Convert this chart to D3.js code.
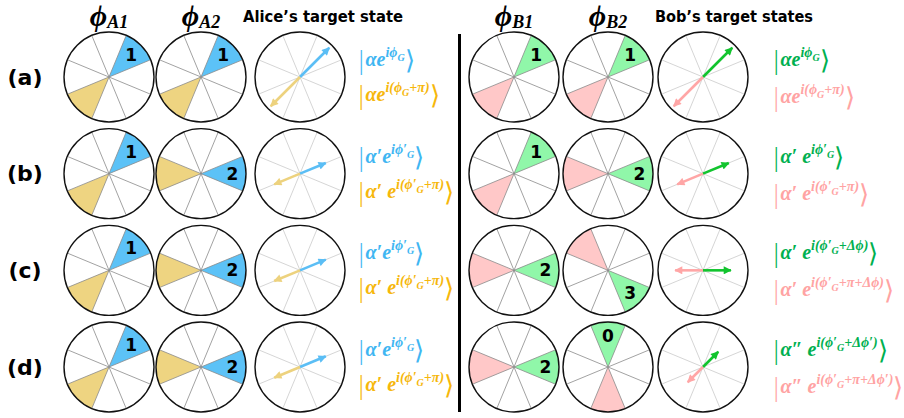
<!DOCTYPE html>
<html>
<head>
<meta charset="utf-8">
<script src="https://cdn.jsdelivr.net/npm/d3@7"></script>
<style>
  body { margin: 0; background: #fff; }
  svg { display: block; }
</style>
</head>
<body>
<div id="chart"></div>
<script>
// Data
const rows = ["(a)", "(b)", "(c)", "(d)"];
const aliceWedge1 = [1, 1, 1, 1];
const aliceWedge2 = [1, 2, 2, 2];
const bobWedge1 = [1, 1, 2, 2];
const bobWedge2 = [1, 2, 3, 0];
const aliceArrowAngle = [45, 67.5, 67.5, 67.5];
const aliceArrowLen = [0.92, 0.62, 0.62, 0.62];
const bobArrowAngle = [45, 67.5, 90, 45];
const bobArrowLen = [0.92, 0.62, 0.62, 0.48];
const aliceKetTop = ["αe^{iϕ_{G}}", "α′e^{iϕ′_{G}}", "α′e^{iϕ′_{G}}", "α′e^{iϕ′_{G}}"];
const aliceKetBot = ["αe^{i(ϕ_{G}+π)}", "α′ e^{i(ϕ′_{G}+π)}", "α′ e^{i(ϕ′_{G}+π)}", "α′ e^{i(ϕ′_{G}+π)}"];
const bobKetTop = ["αe^{iϕ_{G}}", "α′ e^{iϕ′_{G}}", "α′ e^{i(ϕ′_{G}+Δϕ)}", "α″ e^{i(ϕ′_{G}+Δϕ′)}"];
const bobKetBot = ["αe^{i(ϕ_{G}+π)}", "α′ e^{i(ϕ′_{G}+π)}", "α′ e^{i(ϕ′_{G}+π+Δϕ)}", "α″ e^{i(ϕ′_{G}+π+Δϕ′)}"];
const headers = [
  {sym: "ϕ", sub: "A1", x: 109}, {sym: "ϕ", sub: "A2", x: 201},
  {sym: "ϕ", sub: "B1", x: 514}, {sym: "ϕ", sub: "B2", x: 608}
];
const titles = [{text: "Alice’s target state", x: 243, w: 160}, {text: "Bob’s target states", x: 655, w: 158}];

const width = 904, height = 418;
const R = 45;
const color = {
  blue: "#5CC2F7", blueArrow: "#5BBEF5", blueText: "#3FB6F2",
  yellow: "#EED481", yellowArrow: "#EDD27E", yellowText: "#F6B70C",
  green: "#90F7A9", greenArrow: "#12C42E", greenText: "#00B050",
  pink: "#FFC8C8", pinkArrow: "#FFA6A6", pinkText: "#FFA3A3"
};
const mathFont = "'Liberation Serif', 'DejaVu Serif', serif";

const svg = d3.select("#chart").append("svg")
  .attr("width", width).attr("height", height);

const y = d3.scalePoint().domain(rows).range([77, 367]);
const rScale = d3.scaleLinear().domain([0, 1]).range([0, R]);
const rad = d => d * Math.PI / 180;
const arc = d3.arc().innerRadius(0).outerRadius(R);
const sector = k => ({startAngle: rad(k * 45 - 22.5), endAngle: rad(k * 45 + 22.5)});
const boundaries = d3.range(8).map(k => k * 45 + 22.5);

// arrow markers
const defs = svg.append("defs");
[["blue", color.blueArrow], ["yellow", color.yellowArrow], ["green", color.greenArrow], ["pink", color.pinkArrow]]
  .forEach(([name, c]) => {
    defs.append("marker")
      .attr("id", "head-" + name)
      .attr("viewBox", "0 0 10 10")
      .attr("refX", 9).attr("refY", 5)
      .attr("markerWidth", 9).attr("markerHeight", 8)
      .attr("markerUnits", "userSpaceOnUse")
      .attr("orient", "auto")
      .append("path").attr("d", "M0,0L10,5L0,10Z").attr("fill", c);
  });

function wheel(cx, cy, hi, fillHi, fillLo, label) {
  const g = svg.append("g").attr("transform", `translate(${cx},${cy})`);
  g.append("circle").attr("r", R).attr("fill", "#fff");
  g.append("path").attr("d", arc(sector((hi + 4) % 8))).attr("fill", fillLo);
  g.append("path").attr("d", arc(sector(hi))).attr("fill", fillHi);
  g.selectAll("line.div").data(boundaries).enter().append("line")
    .attr("x2", d => rScale(1) * Math.sin(rad(d)))
    .attr("y2", d => -rScale(1) * Math.cos(rad(d)))
    .attr("stroke", "#8a8a8a").attr("stroke-width", 0.8);
  g.append("circle").attr("r", R).attr("fill", "none").attr("stroke", "#111").attr("stroke-width", 1.4);
  g.append("text")
    .attr("x", rScale(0.7) * Math.sin(rad(hi * 45)))
    .attr("y", -rScale(0.7) * Math.cos(rad(hi * 45)))
    .attr("dy", "0.36em")
    .attr("text-anchor", "middle")
    .style("font", "bold 17px 'DejaVu Sans', sans-serif")
    .text(label);
}

function target(cx, cy, angle, len, headA, cA, headB, cB) {
  const g = svg.append("g").attr("transform", `translate(${cx},${cy})`);
  g.selectAll("line.div").data(boundaries).enter().append("line")
    .attr("x2", d => rScale(1) * Math.sin(rad(d)))
    .attr("y2", d => -rScale(1) * Math.cos(rad(d)))
    .attr("stroke", "#d0d0d0").attr("stroke-width", 0.9);
  g.append("circle").attr("r", R).attr("fill", "none").attr("stroke", "#111").attr("stroke-width", 1.4);
  [[angle, cA, headA], [angle + 180, cB, headB]].forEach(([a, c, h]) => {
    g.append("line")
      .attr("x2", rScale(len) * Math.sin(rad(a)))
      .attr("y2", -rScale(len) * Math.cos(rad(a)))
      .attr("stroke", c).attr("stroke-width", 2.6)
      .attr("marker-end", `url(#head-${h})`);
  });
}

function parseKet(s) {
  const out = [];
  let level = 0, stack = [], cur = "";
  const flush = () => { if (cur) out.push({t: cur, level}); cur = ""; };
  for (let i = 0; i < s.length; i++) {
    if (s[i] === "^" && s[i + 1] === "{") { flush(); stack.push(level); level = 1; i++; }
    else if (s[i] === "_" && s[i + 1] === "{") { flush(); stack.push(level); level = 2; i++; }
    else if (s[i] === "}") { flush(); level = stack.pop(); }
    else cur += s[i];
  }
  flush();
  return out;
}

function ket(x, yy, s, fill) {
  const t = svg.append("text").attr("x", x).attr("y", yy).attr("fill", fill);
  const sizes = [20, 14, 10], offs = [0, -9, -5];
  let off = 0;
  t.append("tspan").text("|")
    .style("font", "300 25px 'DejaVu Sans', sans-serif").attr("dy", 3);
  off = 3;
  parseKet(s).forEach(p => {
    t.append("tspan")
      .attr("dy", offs[p.level] - off)
      .style("font", `italic bold ${sizes[p.level]}px ${mathFont}`)
      .text(p.t);
    off = offs[p.level];
  });
  t.append("tspan").text("⟩")
    .style("font", "300 26px 'DejaVu Sans', sans-serif").attr("dy", 3 - off);
}

// headers
headers.forEach(h => {
  const t = svg.append("text").attr("x", h.x).attr("y", 26).attr("text-anchor", "middle");
  t.append("tspan").text(h.sym).style("font", `italic bold 30px ${mathFont}`);
  t.append("tspan").text(h.sub).attr("dy", 2).style("font", `italic bold 18px ${mathFont}`);
});
titles.forEach(tt => {
  svg.append("text").attr("x", tt.x).attr("y", 22)
    .attr("textLength", tt.w).attr("lengthAdjust", "spacingAndGlyphs")
    .style("font", "bold 16px 'DejaVu Sans', sans-serif")
    .text(tt.text);
});

// divider
svg.append("line").attr("x1", 459.5).attr("x2", 459.5).attr("y1", 34).attr("y2", 412)
  .attr("stroke", "#000").attr("stroke-width", 3);

rows.forEach((r, i) => {
  const cy = y(r);
  svg.append("text").attr("x", 25).attr("y", cy).attr("dy", "0.35em")
    .attr("text-anchor", "middle")
    .style("font", "bold 22px 'DejaVu Sans', sans-serif").text(r);

  wheel(109, cy, aliceWedge1[i], color.blue, color.yellow, aliceWedge1[i]);
  wheel(201, cy, aliceWedge2[i], color.blue, color.yellow, aliceWedge2[i]);
  target(300, cy, aliceArrowAngle[i], aliceArrowLen[i], "blue", color.blueArrow, "yellow", color.yellowArrow);
  ket(357, cy - 11, aliceKetTop[i], color.blueText);
  ket(357, cy + 24, aliceKetBot[i], color.yellowText);

  wheel(514, cy, bobWedge1[i], color.green, color.pink, bobWedge1[i]);
  wheel(608, cy, bobWedge2[i], color.green, color.pink, bobWedge2[i]);
  target(703, cy, bobArrowAngle[i], bobArrowLen[i], "green", color.greenArrow, "pink", color.pinkArrow);
  ket(772, cy - 11, bobKetTop[i], color.greenText);
  ket(772, cy + 26, bobKetBot[i], color.pinkText);
});
</script>
</body>
</html>
